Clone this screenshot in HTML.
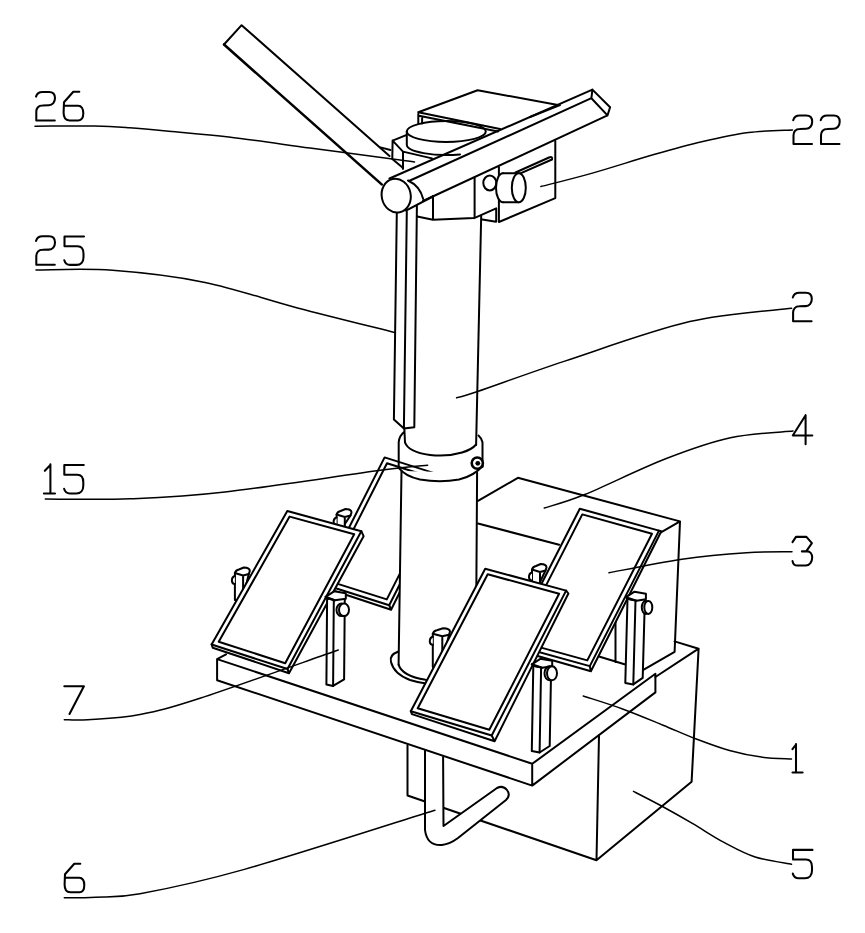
<!DOCTYPE html>
<html><head><meta charset="utf-8"><style>
html,body{margin:0;padding:0;background:#fff;width:865px;height:933px;overflow:hidden}
svg{display:block}
</style></head><body>
<svg width="865" height="933" viewBox="0 0 865 933">
<defs>
<path id="g2" d="M0.5,5 C1.5,1.5 4,0.3 7,0.3 L13.5,0.3 C17.5,0.3 19.5,3 19.5,6.5 C19.5,10.5 17,13.6 13.5,13.6 L7,13.8 C3,13.8 0.8,16.5 0.8,20 L0.8,28.8 L19.3,28.8"/>
<path id="g6" d="M16.5,0.2 L10.5,0.2 L1.2,10.7 L0.8,21 C0.8,26 3,28.8 6.5,28.8 L15.5,28.8 C19,28.8 20.5,25.5 20.5,21.5 C20.5,17 18.5,14.2 15.5,14.2 L1,14.2"/>
<path id="g5" d="M20,0.3 L0.5,0.3 L0.5,10 L13.5,10 C17.5,10 19.5,13 19.5,17.5 L19.5,21 C19.5,25.5 17,28.7 12.5,28.7 L6,28.7 C3,28.7 1,26.5 0.3,24"/>
<path id="g3" d="M0.3,5.5 L3.8,0.3 L14.2,0.3 L19.7,6.6 L14.5,14 M9.7,14.8 L15,14.8 C18,14.8 20,17.5 20,21 C20,25 17.5,29 13.5,29 L5,29 C2.5,29 0.8,27 0.3,24.5"/>
<path id="g4" d="M13.3,0 L0.5,20.3 L20,20.3 M13.3,0 L13.3,29"/>
<path id="g7" d="M0,0.3 L19.6,0.3 L5.2,28"/>
</defs>
<g fill="none" stroke="#000" stroke-width="2" stroke-linejoin="round" stroke-linecap="round">
<path d="M407.5,745.3 L407.5,795.5 L596.5,860.2 L691.6,781.8 L698.6,648.7 L655.4,677 M674.6,641.4 L698.6,648.7 M599,735.5 L596.5,860.2"/>

<path d="M425,750 L425,830 Q427,846 442,845 Q450,844 458,838 L506,800 Q511,795 507,790 Q503,785 497,788 L443.5,826 L443.1,757" fill="#fff"/>

<path d="M217.1,659.1 L217.1,680.2 L532.2,785.6 L655.4,692.4 L655.4,673.7 L532.2,763.8 L217.1,659.1 L226,654.3 M532.2,763.8 L532.2,785.6"/>

<path d="M478,500.9 L517.9,477.8 L680,521.4 L660.1,532.8 M478,523.5 L559.1,544.8 M680,521.4 L674.6,651.8 L642.9,670.1 M615.5,620 L615.5,662 M599.8,656.8 L624.5,664.3"/>
<path d="M336.6,527 L336.6,514.5 Q337.6,511.5 340.6,511.0 L345.5,509.0 Q351.5,509.0 351.5,512.5 L350.5,515.5 L344.8,524 L344.8,527 Z" fill="#fff"/>
<path d="M336.6,514.5 L344.8,517.0 L350.5,515.5 M344.8,517.0 L344.8,524"/>
<path d="M336.6,517.5 Q333.40000000000003,518.5 333.6,522.5 Q334.1,525.5 336.6,525.5" fill="#fff"/>
<path d="M384.6,457.4 L453.1,479.1 L455.4,480.1 L391.1,609.8 L321.7,586.7 L320.7,583.5 Z" fill="#fff" stroke="none"/>
<path d="M384.6,457.4 L453.1,479.1 L389.2,605.2 L320.7,583.5 Z"/>
<path d="M387.0,463.2 L446.3,482.0 L386.8,599.4 L327.5,580.6 Z"/>
<path d="M453.1,479.1 L455.4,480.1 L391.1,609.8 L321.7,586.7 L320.7,583.5 M389.2,605.2 L391.1,609.8"/>
<path d="M532,585 L532,569.5 Q533,566.5 536,566.0 L540.7,564.0 Q546.5,564.0 546.5,567.5 L545.5,570.5 L540.0,582 L540.0,585 Z" fill="#fff"/>
<path d="M532,569.5 L540.0,572.0 L545.5,570.5 M540.0,572.0 L540.0,582"/>
<path d="M532,572.5 Q528.8,573.5 529,577.5 Q529.5,580.5 532,580.5" fill="#fff"/>
<path d="M579.8,508.7 L659.0,530.6 L661.3,531.2 L590.9,671.3 L510.6,648.2 L510.6,644.2 Z" fill="#fff" stroke="none"/>
<path d="M579.8,508.7 L659.0,530.6 L589.8,666.1 L510.6,644.2 Z"/>
<path d="M582.3,514.4 L652.0,533.7 L587.3,660.4 L517.6,641.1 Z"/>
<path d="M659.0,530.6 L661.3,531.2 L590.9,671.3 L510.6,648.2 L510.6,644.2 M589.8,666.1 L590.9,671.3"/>
<path d="M625.3,682.9 L627.5,598.7 L635.5,600.2 L644.9,597.7 L642.6999999999999,677.9 L633.3,684.4 Z" fill="#fff"/>
<path d="M635.5,600.2 L633.3,684.4"/>
<path d="M627.5,598.7 L626.0,597.2 L634.5,591.7 L645.9,593.7 L645.9,599.2 L636.5,600.7 Z" fill="#fff"/>
<path d="M626.0,597.2 L636.5,600.7"/>
<ellipse cx="645.8" cy="607.4" rx="4" ry="6.5" fill="#fff"/>
<ellipse cx="648.3" cy="607.4" rx="4" ry="6.5" fill="#fff"/>

<path d="M401.5,471 L398.6,664.6 Q402,676 425.6,679.7 L477,681 L477.1,472.7 Z" fill="#fff" stroke="none"/>
<path d="M401.5,471 L398.6,664.6 M477.1,472.7 L476,640"/>
<path d="M397.8,651.8 Q389,655 391,662 Q394,674 410,680 Q418,682.5 426,683.5 L445,684 M398.6,664.6 Q402,676 425.6,679.7 L445,680" />

<path d="M398.7,468 L398.7,442.3 Q399,436 404.6,431.5 M482.5,467 L482.5,442.3 Q481.5,438 478.5,435.5 M404.3,427.5 L405,442.5"/>
<path d="M405,442.3 Q408,452 430,455 Q447,457 462,452.5 Q472,449.5 476.1,444.5"/>
<path d="M398.7,467.8 Q405,476 420,479.5 Q440,483 459,479.5 Q474,476 482.5,466"/>
<circle cx="477.3" cy="463.1" r="5.6" fill="#fff" stroke-width="2.6"/>
<circle cx="477.8" cy="463.3" r="2.4" fill="#000" stroke="none"/>
<path d="M234.9,600 L234.9,573 Q235.9,570 238.9,569.5 L243.8,567.5 Q249.8,567.5 249.8,571 L248.8,574 L243.1,597 L243.1,600 Z" fill="#fff"/>
<path d="M234.9,573 L243.1,575.5 L248.8,574 M243.1,575.5 L243.1,597"/>
<path d="M234.9,576 Q231.70000000000002,577 231.9,581 Q232.4,584 234.9,584" fill="#fff"/>
<path d="M287.3,511.0 L361.3,531.2 L363.6,536.2 L289.0,673.2 L212.7,647.7 L211.6,644.5 Z" fill="#fff" stroke="none"/>
<path d="M287.3,511.0 L361.3,531.2 L287.5,669.0 L211.6,644.5 Z"/>
<path d="M289.6,516.6 L354.2,534.2 L285.2,663.2 L218.7,641.7 Z"/>
<path d="M361.3,531.2 L363.6,536.2 L289.0,673.2 L212.7,647.7 L211.6,644.5 M287.5,669.0 L289.0,673.2"/>
<path d="M326.40000000000003,684.4 L327.1,598.3 L333.8,599.8 L344.8,597.3 L344.1,679.4 L333.1,685.9 Z" fill="#fff"/>
<path d="M333.8,599.8 L333.1,685.9"/>
<path d="M327.1,598.3 L325.6,596.8 L334.1,591.3 L345.8,593.3 L345.8,598.8 L334.8,600.3 Z" fill="#fff"/>
<path d="M325.6,596.8 L334.8,600.3"/>
<ellipse cx="341.5" cy="609.8" rx="5" ry="6.3" fill="#fff"/>
<ellipse cx="344" cy="609.8" rx="5" ry="6.3" fill="#fff"/>
<path d="M432.8,667 L432.8,633.8 Q433.8,630.8 436.8,630.3 L443.1,628.3 Q450,628.3 450,631.8 L449,634.8 L442.3,664 L442.3,667 Z" fill="#fff"/>
<path d="M432.8,633.8 L442.3,636.3 L449,634.8 M442.3,636.3 L442.3,664"/>
<path d="M432.8,636.8 Q429.6,637.8 429.8,641.8 Q430.3,644.8 432.8,644.8" fill="#fff"/>
<path d="M485.2,568.7 L566.1,590.6 L568.4,593.5 L494.6,741.2 L411.9,714.1 L410.8,711.2 Z" fill="#fff" stroke="none"/>
<path d="M485.2,568.7 L566.1,590.6 L491.7,735.5 L410.8,711.2 Z"/>
<path d="M487.7,574.3 L559.1,593.7 L489.3,729.8 L417.7,708.3 Z"/>
<path d="M566.1,590.6 L568.4,593.5 L494.6,741.2 L411.9,714.1 L410.8,711.2 M491.7,735.5 L494.6,741.2"/>
<path d="M531.8,751 L533.3,665.8 L541.1,667.3 L551.2,664.8 L549.7,746 L539.6,752.5 Z" fill="#fff"/>
<path d="M541.1,667.3 L539.6,752.5"/>
<path d="M533.3,665.8 L531.8,664.3 L540.3,658.8 L552.2,660.8 L552.2,666.3 L542.1,667.8 Z" fill="#fff"/>
<path d="M531.8,664.3 L542.1,667.8"/>
<ellipse cx="549.5" cy="673.3" rx="5" ry="7" fill="#fff"/>
<ellipse cx="552" cy="673.3" rx="5" ry="7" fill="#fff"/>

<!-- blade 1 -->
<path d="M389.5,156 L241.6,25.2 L224,44.5" />
<path d="M224,44.5 L381.7,184.4" stroke-width="2.6"/>
<path d="M380.5,147.4 L390.5,150"/>
<!-- block 26 -->
<path d="M392.6,140.6 L392.3,159.1 L402.5,167.5 L403,168.9 L403,151.6 L392.6,140.6 L406.2,135.1 M403,151.6 L432,158.4"/>
<!-- disk -->
<ellipse cx="446.3" cy="131.5" rx="39.5" ry="10.4"/>
<path d="M406.8,131.5 L406.8,144.5 A39.5,10.4 0 0 0 460,154.4"/>
<!-- top plate -->
<path d="M418.3,112.3 L477.6,90.2 L558,105 M418.3,112.3 L500,129 M418.3,113.8 L418.3,123.4 M422.1,117.9 L422.1,123.4 M419,115.8 L498,131.5"/>
<path d="M560,105 L530,117"/>
<!-- crossbar -->
<path d="M389.5,178.5 L592.4,89.6 L610.1,107.3 L607.5,115.4 L423,201 M409,181 L591.4,98.2 L607.5,115.4 M592.4,89.6 L591.4,98.2"/>
<!-- end cylinder -->
<ellipse cx="396.2" cy="195.6" rx="14.5" ry="17" transform="rotate(-12 396.2 195.6)"/>
<path d="M408,180.5 Q420,186 423.2,199"/>
<path d="M406,210.6 L432.8,196.5"/>
<!-- housing -->
<path d="M433,196 L433,219.8 L473.8,218.1 M474.6,177.3 L474.6,217.2 M417.2,216.4 L433,219.8"/>
<!-- clamp block 22 -->
<path d="M498.9,167 L498.9,222 L555.3,198.1 L555.3,141"/>
<path d="M515.5,172.5 L549,157.5 Q553,156 552,159.5 L517,174.8"/>
<!-- knob -->
<ellipse cx="489.8" cy="183" rx="6.5" ry="7.4" fill="#fff"/>
<path d="M503,173.2 L518.8,173.2 M503,202.2 L518.8,202.2" />
<path d="M503,173.2 A7,14.5 0 0 0 503,202.2" fill="#fff"/>
<ellipse cx="518.8" cy="187.7" rx="7" ry="14.5" fill="#fff"/>
<!-- strip 25 -->
<path d="M396.8,213 L393.9,419.5 L403.9,428.5 L414.3,427.2 L416.9,205.5 M406.8,211.8 L403.9,428.5"/>
<!-- pole upper -->
<path d="M481.2,215.8 L476.1,445"/>
<path d="M474.2,218.1 L496.2,208.3 L496.2,221.6 M482.3,219.5 L496,221.8"/>
</g><g fill="none" stroke="#000" stroke-width="1.5" stroke-linejoin="round" stroke-linecap="round"><path d="M35,126.2 C45.0,126.2 79.0,125.8 94.7,126 C110.4,126.2 117.1,126.8 129.4,127.7 C141.7,128.6 152.1,129.6 168.7,131.2 C185.3,132.8 205.2,134.2 228.8,137 C252.4,139.8 282.7,144.3 310,148 C337.3,151.7 375.1,156.7 392.5,159 C409.9,161.3 410.8,161.5 414.5,162"/>
<path d="M36,270 C48.8,270.1 84.3,268.2 112.5,270.3 C140.7,272.4 174.2,276.1 205,282.4 C235.8,288.7 265.9,299.6 297.5,307.9 C329.1,316.2 378.4,328.3 394.6,332.4"/>
<path d="M45.3,499 C59.4,499.0 100.0,500.0 130,498.8 C159.9,497.6 183.3,496.8 225,492 C266.7,487.2 346.6,474.8 380.4,470.3 C414.2,465.9 419.7,466.1 427.6,465.3"/>
<path d="M64.3,719.7 C68.2,719.7 75.4,720.6 88,719.7 C100.6,718.8 121.3,718.1 140,714.5 C158.7,710.9 166.9,709.0 200,698.3 C233.1,687.5 315.2,658.0 338.3,650"/>
<path d="M64.3,897.8 C69.5,897.7 82.9,897.9 95.5,897.2 C108.1,896.5 115.2,898.4 140,893.8 C164.8,889.2 195.2,883.3 244.4,869.4 C293.6,855.5 403.1,820.1 434.9,810.2"/>
<path d="M540.9,186.5 C549.5,184.3 573.4,178.5 592.4,173.1 C611.4,167.7 636.6,159.5 654.8,154.3 C673.0,149.1 686.1,145.4 701.7,141.8 C717.3,138.2 733.4,134.5 748.5,132.5 C763.6,130.5 785.2,130.4 792.5,130"/>
<path d="M791.6,308.3 C774.6,310.5 727.5,312.8 689.7,321.6 C651.9,330.4 600.2,349.5 564.8,361.1 C529.4,372.8 495.5,385.4 477.5,391.5 C459.5,397.6 460.1,396.8 456.6,397.8"/>
<path d="M793,431 C782.6,432.1 751.6,433.2 730.4,437.8 C709.2,442.4 690.0,449.4 665.7,458.8 C641.4,468.2 604.9,486.3 584.7,494.5 C564.5,502.7 551.0,505.8 544.3,508"/>
<path d="M792,551.8 C784.4,551.9 765.0,551.5 746.6,552.7 C728.2,553.9 704.8,555.9 681.9,559.2 C659.0,562.6 621.1,570.5 609,572.8"/>
<path d="M583.3,696 C589.9,698.2 609.9,704.3 623.2,709.2 C636.5,714.1 651.1,720.3 663.1,725.2 C675.1,730.1 683.9,734.3 695,738.5 C706.1,742.7 718.4,747.4 729.5,750.5 C740.6,753.6 751.1,755.7 761.4,757.1 C771.7,758.5 786.5,758.7 791.5,759"/>
<path d="M633.5,791.4 C638.2,793.8 651.7,800.6 661.6,806 C671.5,811.4 682.4,817.6 692.8,823.7 C703.2,829.8 713.6,836.9 724,842.4 C734.4,847.9 744.0,853.4 755.2,857 C766.5,860.6 785.5,863.1 791.5,864.3"/>
</g><g fill="none" stroke="#000" stroke-width="2.05" stroke-linejoin="round" stroke-linecap="round">
<use href="#g2" x="35.5" y="91.6"/><use href="#g6" x="62.8" y="91.6"/>
<use href="#g2" x="35.5" y="236"/><use href="#g5" x="64" y="236.2"/>
<path d="M50.4,464.3 L50.4,493.5 M50.4,465 L44.8,470.8 M43.9,493.5 L55,493.5"/><use href="#g5" x="63.8" y="464.8"/>
<use href="#g7" x="64.3" y="686"/>
<use href="#g6" x="63.8" y="863.5"/>
<use href="#g2" x="792.7" y="115.2"/><use href="#g2" x="820.2" y="115.2"/>
<use href="#g2" x="792.3" y="292.5"/>
<use href="#g4" x="792.3" y="415.2"/>
<use href="#g3" x="792.2" y="536.6"/>
<path d="M796,744 L796,772.4 M796,744.5 L792.5,749.2 M792.5,772.4 L802.6,772.4"/>
<use href="#g5" x="792.5" y="849.6"/>
</g>
</svg>
</body></html>
